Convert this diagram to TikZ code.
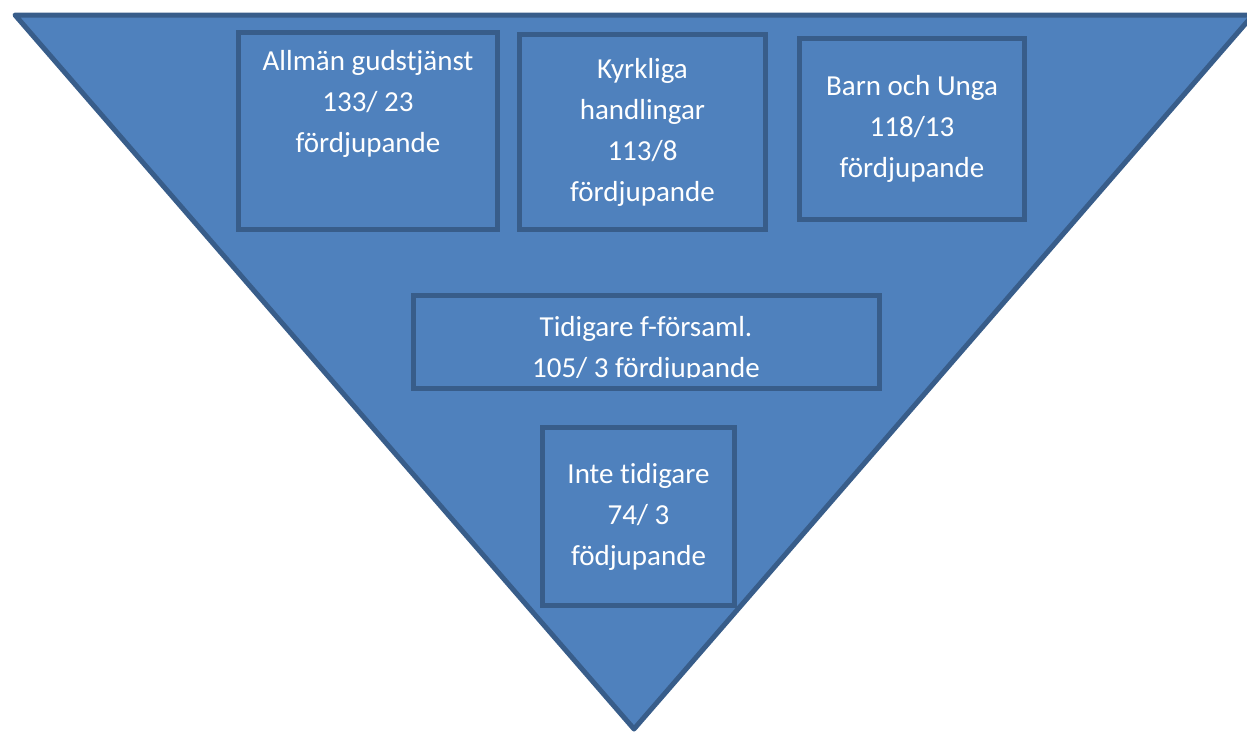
\documentclass[tikz,border=0pt]{standalone}
\usepackage{fontspec}
\setmainfont{Carlito}[Ligatures=NoCommon]
\definecolor{blockfill}{HTML}{4F81BD}
\definecolor{blockline}{HTML}{385D8A}

\begin{document}
\begin{tikzpicture}[x=1pt,y=-1pt,
    block/.style={draw=blockline,line width=5pt,fill=blockfill,inner sep=0pt,outer sep=0pt},
    label txt/.style={text=white,align=center,inner sep=0pt,font=\fontsize{29}{41}\selectfont}]
        \useasboundingbox (0,0) rectangle (1247,731);
        \clip (0,0) rectangle (1247,731);

        % funnel
        \coordinate (tl) at (15,15);
        \coordinate (tr) at (1253,15);
        \coordinate (apex) at (634,729);
        \draw[draw=blockline,line width=5pt,fill=blockfill,line join=round] (tl) -- (tr) -- (apex) -- cycle;

        % top row
        \node[block,minimum width=259pt,minimum height=197pt] (gudstjanst) at (368,131) {};
        \node[label txt] at (368,104) {Allmän gudstjänst\\133/ 23\\fördjupande};

        \node[block,minimum width=246pt,minimum height=195pt,label txt] (handlingar) at (642.5,132) {Kyrkliga\\handlingar\\113/8\\fördjupande};

        \node[block,minimum width=225pt,minimum height=181pt,label txt] (barnunga) at (912,129) {Barn och Unga\\118/13\\fördjupande};

        % middle
        \node[block,minimum width=466pt,minimum height=93pt] (tidigare) at (646.5,342) {};
        \begin{scope}
            \clip (416,298) rectangle (877,377);
            \node[label txt] at (646,349) {Tidigare f-församl.\\105/ 3 fördjupande};
        \end{scope}

        % bottom
        \node[block,minimum width=192pt,minimum height=178pt,label txt] (intetidigare) at (638.5,516.5) {Inte tidigare\\74/ 3\\födjupande};
      \end{tikzpicture}
\end{document}
